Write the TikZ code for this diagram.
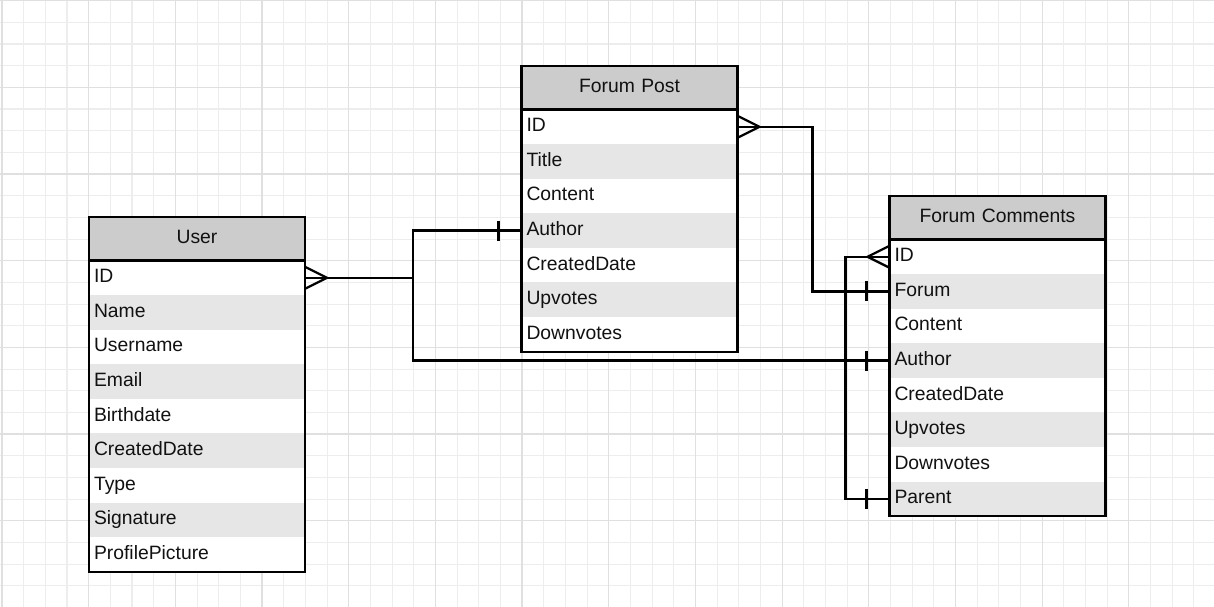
\documentclass[tikz,border=0pt]{standalone}
\usepackage{fontspec}
\setmainfont{Liberation Sans}
\usetikzlibrary{positioning,calc}

\definecolor{gridminor}{HTML}{EDEDED}
\definecolor{gridmajor}{HTML}{E0E0E0}
\definecolor{headgray}{HTML}{CCCCCC}
\definecolor{rowgray}{HTML}{E6E6E6}
\definecolor{inkgray}{HTML}{111111}

\tikzset{
  tablehead/.style={rectangle, fill=headgray, outer sep=0pt, inner xsep=0.1cm,
    minimum width=4.32cm, minimum height=0.87cm, text width=4.12cm, align=center,
    text height=8.2pt, text depth=2.5pt, text=inkgray,
    font=\fontsize{11}{13}\selectfont},
  field/.style={rectangle, fill=white, outer sep=0pt, inner xsep=0.1cm,
    minimum width=4.32cm, minimum height=0.692cm, text width=4.12cm, align=left,
    text height=8.2pt, text depth=2.5pt, text=inkgray,
    font=\fontsize{11}{13}\selectfont},
  shaded/.style={field, fill=rowgray},
  tableline/.style={line width=1.3pt, black},
  link/.style={line width=1.3pt, black, miter limit=10}
}

\begin{document}
\begin{tikzpicture}[x=0.02cm, y=-0.02cm]

\useasboundingbox (0,0) rectangle (1214,607);
\fill[white] (0,0) rectangle (1214,607);

% Background grid
\foreach \i in {0,...,55}
  \draw[gridminor, line width=0.6pt] ({2+21.67*\i},0) -- ({2+21.67*\i},607);
\foreach \i in {0,...,28}
  \draw[gridminor, line width=0.6pt] (0,{0.67+21.67*\i}) -- (1214,{0.67+21.67*\i});
\foreach \i in {0,...,13}
  \draw[gridmajor, line width=0.6pt] ({2+86.67*\i},0) -- ({2+86.67*\i},607);
\foreach \i in {0,...,7}
  \draw[gridmajor, line width=0.6pt] (0,{0.67+86.67*\i}) -- (1214,{0.67+86.67*\i});

% User table
\node[tablehead] (user-h) at (197,238.75) {User};
\node[field, below=0pt of user-h] (user-1) {ID};
\node[shaded, below=0pt of user-1] (user-2) {Name};
\node[field, below=0pt of user-2] (user-3) {Username};
\node[shaded, below=0pt of user-3] (user-4) {Email};
\node[field, below=0pt of user-4] (user-5) {Birthdate};
\node[shaded, below=0pt of user-5] (user-6) {CreatedDate};
\node[field, below=0pt of user-6] (user-7) {Type};
\node[shaded, below=0pt of user-7] (user-8) {Signature};
\node[field, below=0pt of user-8] (user-9) {ProfilePicture};
\draw[tableline] (user-h.north west) rectangle (user-9.south east);
\draw[tableline] (user-h.south west) -- (user-h.south east);

% Forum Post table
\node[tablehead] (post-h) at (629.5,87.75) {Forum Post};
\node[field, below=0pt of post-h] (post-1) {ID};
\node[shaded, below=0pt of post-1] (post-2) {Title};
\node[field, below=0pt of post-2] (post-3) {Content};
\node[shaded, below=0pt of post-3] (post-4) {Author};
\node[field, below=0pt of post-4] (post-5) {CreatedDate};
\node[shaded, below=0pt of post-5] (post-6) {Upvotes};
\node[field, below=0pt of post-6] (post-7) {Downvotes};
\draw[tableline] (post-h.north west) rectangle (post-7.south east);
\draw[tableline] (post-h.south west) -- (post-h.south east);

% Forum Comments table
\node[tablehead] (com-h) at (997.5,217.75) {Forum Comments};
\node[field, below=0pt of com-h] (com-1) {ID};
\node[shaded, below=0pt of com-1] (com-2) {Forum};
\node[field, below=0pt of com-2] (com-3) {Content};
\node[shaded, below=0pt of com-3] (com-4) {Author};
\node[field, below=0pt of com-4] (com-5) {CreatedDate};
\node[shaded, below=0pt of com-5] (com-6) {Upvotes};
\node[field, below=0pt of com-6] (com-7) {Downvotes};
\node[shaded, below=0pt of com-7] (com-8) {Parent};
\draw[tableline] (com-h.north west) rectangle (com-8.south east);
\draw[tableline] (com-h.south west) -- (com-h.south east);

% User ID -> authors
\coordinate (split) at ($(user-1.east)+(108,0)$);
\draw[link] (user-1.east) -- (split) |- (post-4.west);
\draw[link] (split) |- (com-4.west);
\draw[link] ($(user-1.east)+(0,-11)$) -- ($(user-1.east)+(22,0)$) -- ($(user-1.east)+(0,11)$);
\draw[link] ($(post-4.west)+(-23,-10)$) -- ($(post-4.west)+(-23,10)$);
\draw[link] ($(com-4.west)+(-23,-10)$) -- ($(com-4.west)+(-23,10)$);

% Forum Post ID -> Forum
\coordinate (postturn) at ($(post-1.east)+(75,0)$);
\draw[link] (post-1.east) -- (postturn) |- (com-2.west);
\draw[link] ($(post-1.east)+(0,-11)$) -- ($(post-1.east)+(22,0)$) -- ($(post-1.east)+(0,11)$);
\draw[link] ($(com-2.west)+(-23,-10)$) -- ($(com-2.west)+(-23,10)$);

% Comment ID -> Parent
\coordinate (selfturn) at ($(com-1.west)+(-44,0)$);
\draw[link] (com-1.west) -- (selfturn) |- (com-8.west);
\draw[link] ($(com-1.west)+(0,-11)$) -- ($(com-1.west)+(-22,0)$) -- ($(com-1.west)+(0,11)$);
\draw[link] ($(com-8.west)+(-23,-10)$) -- ($(com-8.west)+(-23,10)$);

\end{tikzpicture}
\end{document}
